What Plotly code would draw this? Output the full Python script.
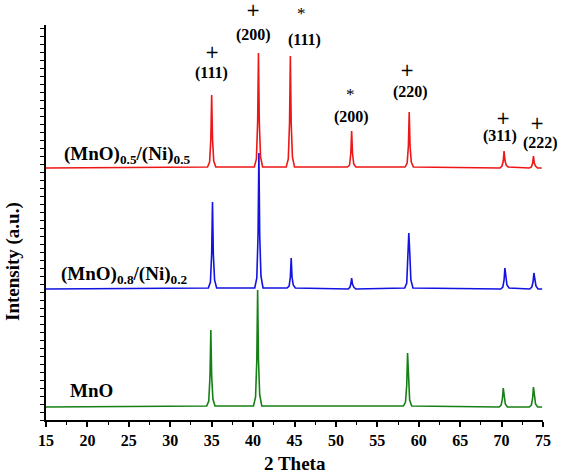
import plotly.graph_objects as go

# ---- data (2 Theta in degrees, intensity in arbitrary units incl. vertical offset) ----
red_x = [15, 34.5, 34.75, 34.9, 35.0, 35.1, 35.25, 35.5,
         40.15, 40.4, 40.55, 40.65, 40.75, 40.9, 41.15,
         44.0, 44.25, 44.4, 44.5, 44.6, 44.75, 45.0,
         51.4, 51.65, 51.8, 51.9, 52.0, 52.15, 52.4,
         58.35, 58.6, 58.75, 58.85, 58.95, 59.1, 59.35,
         69.8, 70.05, 70.2, 70.3, 70.4, 70.55, 70.8,
         73.35, 73.6, 73.75, 73.85, 73.95, 74.1, 74.35, 74.85]
red_y = [252, 253, 258, 281, 325, 281, 259, 253,
         253, 261, 298, 367, 298, 263, 253,
         253, 261, 297, 364, 297, 263, 253,
         253, 255, 267, 289, 267, 256, 253,
         253, 257, 274, 308, 274, 258, 253,
         252, 254, 259, 269, 260, 255, 253,
         252, 253, 257, 264, 257, 254, 252, 252]

blue_x = [15, 34.6, 34.85, 35.0, 35.1, 35.2, 35.35, 35.6,
          40.2, 40.45, 40.6, 40.7, 40.8, 40.95, 41.2,
          44.1, 44.35, 44.5, 44.6, 44.7, 44.85, 45.1,
          51.5, 51.7, 51.8, 51.9, 52.0, 52.15, 52.4,
          58.3, 58.55, 58.7, 58.8, 58.9, 59.05, 59.3,
          69.9, 70.15, 70.3, 70.4, 70.5, 70.65, 70.9,
          73.4, 73.65, 73.8, 73.9, 74.0, 74.15, 74.4, 74.9]
blue_y = [131, 132, 138, 166, 218, 166, 140, 132,
          132, 142, 185, 267, 185, 144, 132,
          132, 134, 143, 162, 143, 135, 132,
          131, 133, 136, 142, 136, 133, 131,
          132, 137, 160, 187, 170, 140, 132,
          131, 133, 140, 152, 145, 135, 132,
          131, 133, 138, 147, 139, 134, 131, 131]

green_x = [15, 34.4, 34.65, 34.8, 34.9, 35.0, 35.15, 35.4,
           40.05, 40.3, 40.45, 40.55, 40.65, 40.8, 41.05,
           58.15, 58.4, 58.55, 58.65, 58.75, 58.9, 59.15,
           69.7, 69.95, 70.1, 70.2, 70.3, 70.45, 70.7,
           73.35, 73.6, 73.75, 73.85, 73.95, 74.1, 74.35, 74.9]
green_y = [13, 14, 19, 44, 90, 44, 21, 14,
           14, 23, 60, 130, 60, 25, 14,
           14, 18, 35, 67, 38, 20, 14,
           13, 15, 21, 32, 23, 16, 13,
           13, 15, 22, 33, 24, 16, 13, 13]

series_names = ["(MnO)<sub>0.5</sub>/(Ni)<sub>0.5</sub>",
                "(MnO)<sub>0.8</sub>/(Ni)<sub>0.2</sub>",
                "MnO"]
series_colors = ["rgb(238,22,22)", "rgb(18,18,225)", "rgb(22,128,22)"]

# peak labels: (x, y of label, marker symbol, y of marker)
hkl_labels = ["(111)", "(200)", "(111)", "(200)", "(220)", "(311)", "(222)"]
hkl_x = [35.0, 40.1, 46.2, 51.9, 58.95, 69.8, 74.75]
hkl_y = [347, 385, 380, 303, 328, 284, 277]
mark_sym = ["+", "+", "*", "*", "+", "+", "+"]
mark_x = [35.0, 40.0, 45.8, 51.8, 58.6, 70.2, 74.3]
mark_y = [368, 410, 407, 325, 350, 302, 297]

xticks = [15, 20, 25, 30, 35, 40, 45, 50, 55, 60, 65, 70, 75]

FONT = "Liberation Serif"
YMAX = 395

fig = go.Figure()
for xs, ys, nm, col in [(red_x, red_y, series_names[0], series_colors[0]),
                        (blue_x, blue_y, series_names[1], series_colors[1]),
                        (green_x, green_y, series_names[2], series_colors[2])]:
    fig.add_trace(go.Scatter(x=xs, y=ys, mode="lines", name=nm,
                             line=dict(color=col, width=1.6), showlegend=False))

annotations = []
# series labels
for txt, x, y in [(series_names[0], 16.9, 265), (series_names[1], 16.6, 145), (series_names[2], 17.6, 30)]:
    annotations.append(dict(x=x, y=y, xref="x", yref="y", text="<b>" + txt + "</b>",
                            showarrow=False, xanchor="left", yanchor="middle",
                            font=dict(family=FONT, size=19, color="black")))
for t, x, y in zip(hkl_labels, hkl_x, hkl_y):
    annotations.append(dict(x=x, y=y / YMAX, xref="x", yref="paper", text="<b>" + t + "</b>",
                            showarrow=False, xanchor="center", yanchor="middle",
                            font=dict(family=FONT, size=16, color="black")))
for s, x, y in zip(mark_sym, mark_x, mark_y):
    annotations.append(dict(x=x, y=y / YMAX, xref="x", yref="paper", text=s, showarrow=False,
                            xanchor="center", yanchor="middle",
                            font=dict(family="DejaVu Sans" if s == "+" else FONT,
                                      size=17, color="black")))
# axis titles
annotations.append(dict(x=0.5, y=0, xref="paper", yref="paper", yshift=-43, text="<b>2 Theta</b>",
                        showarrow=False, xanchor="center", yanchor="middle",
                        font=dict(family=FONT, size=19, color="black")))
annotations.append(dict(x=0, y=0.40, xref="paper", yref="paper", xshift=-33, text="<b>Intensity (a.u.)</b>",
                        showarrow=False, textangle=-90, xanchor="center", yanchor="middle",
                        font=dict(family=FONT, size=19, color="black")))

fig.update_layout(
    width=568, height=476,
    margin=dict(l=46, r=25, t=25, b=56),
    paper_bgcolor="white", plot_bgcolor="white",
    annotations=annotations,
    xaxis=dict(range=[15, 75], tickvals=xticks, ticktext=["<b>%d</b>" % v for v in xticks],
               ticks="outside", ticklen=5, tickwidth=1.5, tickcolor="black",
               showline=True, linecolor="black", linewidth=2, showgrid=False, zeroline=False,
               minor=dict(dtick=2.5, tick0=15, ticks="outside", ticklen=3, tickcolor="black", tickwidth=1.2),
               tickfont=dict(family=FONT, size=16, color="black")),
    yaxis=dict(range=[0, YMAX], tick0=0, dtick=8, ticks="outside", ticklen=4, tickwidth=1.3,
               tickcolor="black", showticklabels=False,
               showline=True, linecolor="black", linewidth=2, showgrid=False, zeroline=False),
)

fig.write_html("out.html")
